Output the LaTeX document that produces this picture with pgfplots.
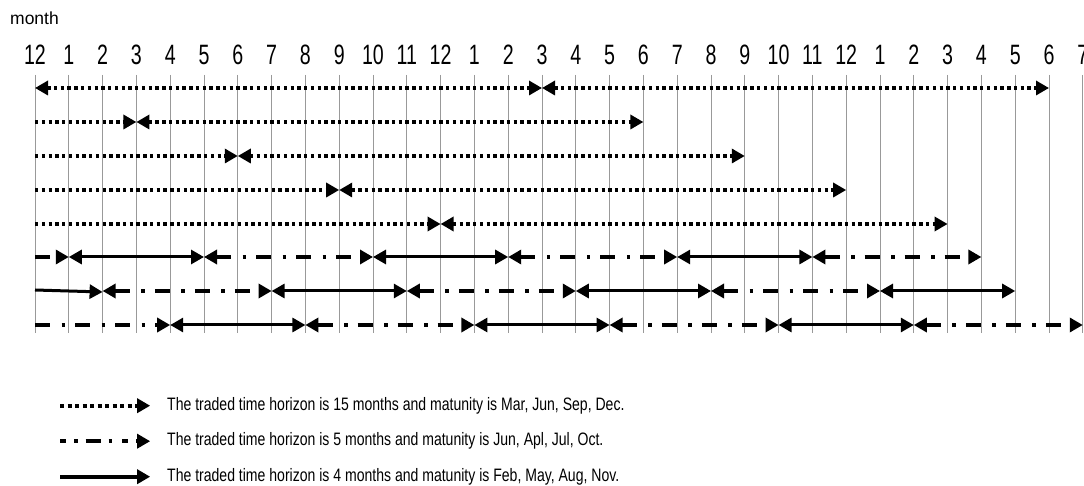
\documentclass[border=0pt]{standalone}
\usepackage{fontspec}
\setmainfont{Liberation Sans}
\newfontfamily\tickfont[FakeStretch=0.7]{Liberation Sans}
\newfontfamily\legfont[FakeStretch=0.78]{Liberation Sans}
\usepackage{pgfplots}
\pgfplotsset{compat=1.18}
\usetikzlibrary{arrows.meta}
\tikzset{
  >={Triangle[length=13pt,width=14pt]},
  hdot/.style={line width=3.3pt, dash pattern=on 3.4pt off 3.36pt},
  hdd/.style={line width=3.6pt, dash pattern=on 15pt off 11.5pt on 3.5pt off 10pt},
  hsol/.style={line width=3pt},
}
\begin{document}
\begin{tikzpicture}
\path[use as bounding box] (0,0) rectangle (1084pt,486pt);
\begin{axis}[
  at={(0pt,153pt)}, anchor=south west,
  scale only axis, width=1084pt, height=258pt,
  xmin=-1.0355, xmax=31.036, ymin=75, ymax=333, y dir=reverse,
  axis line style={draw=none}, major tick length=0pt, ytick=\empty,
  xtick={0,...,31},
  xticklabels={12,1,2,3,4,5,6,7,8,9,10,11,12,1,2,3,4,5,6,7,8,9,10,11,12,1,2,3,4,5,6,7},
  xticklabel pos=upper,
  xticklabel style={font=\tickfont\fontsize{28}{28}\selectfont, anchor=south, inner sep=0pt, yshift=10pt},
  xmajorgrids, grid style={draw=gray!80, line width=1pt},
  clip=false,
  legend image code/.code={\draw[#1] (0pt,0pt) -- (90pt,0pt);},
  legend style={at={(axis cs:0.68,397)}, anchor=north west, draw=none, fill=none,
    font=\legfont\fontsize{18}{18}\selectfont, row sep=18.5pt, column sep=15pt, inner sep=0pt,
    nodes={inner sep=0pt, text height=13pt, text depth=4pt}},
  legend cell align=left,
]
\addlegendimage{hdot, line width=4pt, dash pattern=on 4pt off 3.5pt, ->}
\addlegendentry{The traded time horizon is 15 months and matunity is Mar, Jun, Sep, Dec.}
\addlegendimage{hdd, dash pattern=on 6pt off 8pt on 3.5pt off 8pt on 15pt off 8pt on 3.5pt off 10pt, ->}
\addlegendentry{The traded time horizon is 5 months and matunity is Jun, Apl, Jul, Oct.}
\addlegendimage{hsol, line width=3.6pt, ->}
\addlegendentry{The traded time horizon is 4 months and matunity is Feb, May, Aug, Nov.}

% row 1
\addplot[hdot, <->] coordinates {(0,88) (15,88)};
\addplot[hdot, <->] coordinates {(15,88) (30,88)};
% row 2
\addplot[hdot, ->] coordinates {(0,122) (3,122)};
\addplot[hdot, <->] coordinates {(3,122) (18,122)};
% row 3
\addplot[hdot, ->] coordinates {(0,156) (6,156)};
\addplot[hdot, <->] coordinates {(6,156) (21,156)};
% row 4
\addplot[hdot, ->] coordinates {(0,190) (9,190)};
\addplot[hdot, <->] coordinates {(9,190) (24,190)};
% row 5
\addplot[hdot, ->] coordinates {(0,224) (12,224)};
\addplot[hdot, <->] coordinates {(12,224) (27,224)};
% row 6
\addplot[hdd, ->] coordinates {(0,257) (1,257)};
\addplot[hsol, <->] coordinates {(1,257) (5,257)};
\addplot[hdd, <->] coordinates {(5,257) (10,257)};
\addplot[hsol, <->] coordinates {(10,257) (14,257)};
\addplot[hdd, <->] coordinates {(14,257) (19,257)};
\addplot[hsol, <->] coordinates {(19,257) (23,257)};
\addplot[hdd, <->] coordinates {(23,257) (28,257)};
% row 7
\addplot[hsol, ->] coordinates {(0,290) (2,292)};
\addplot[hdd, <->] coordinates {(2,291) (7,291)};
\addplot[hsol, <->] coordinates {(7,291) (11,291)};
\addplot[hdd, <->] coordinates {(11,291) (16,291)};
\addplot[hsol, <->] coordinates {(16,291) (20,291)};
\addplot[hdd, <->] coordinates {(20,291) (25,291)};
\addplot[hsol, <->] coordinates {(25,291) (29,291)};
% row 8
\addplot[hdd, ->] coordinates {(0,325) (4,325)};
\addplot[hsol, <->] coordinates {(4,325) (8,325)};
\addplot[hdd, <->] coordinates {(8,325) (13,325)};
\addplot[hsol, <->] coordinates {(13,325) (17,325)};
\addplot[hdd, <->] coordinates {(17,325) (22,325)};
\addplot[hsol, <->] coordinates {(22,325) (26,325)};
\addplot[hdd, <->] coordinates {(26,325) (31,325)};

\node[anchor=west, inner sep=0pt, font=\fontsize{17.5}{17.5}\selectfont] at (axis cs:-0.74,18) {month};
\end{axis}
\end{tikzpicture}
\end{document}
